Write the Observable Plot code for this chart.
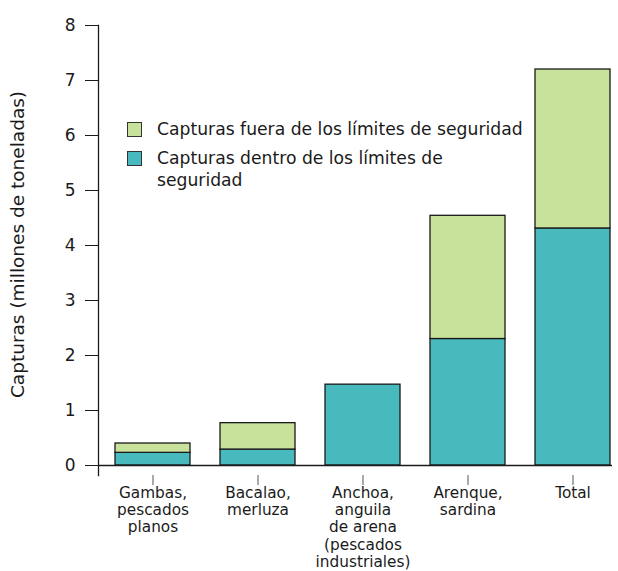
<!DOCTYPE html>
<html>
<head>
<meta charset="utf-8">
<script src="https://cdn.jsdelivr.net/npm/d3@7"></script>
<script src="https://cdn.jsdelivr.net/npm/@observablehq/plot@0.6"></script>
<style>
  html, body { margin: 0; padding: 0; background: #fff; }
  #wrap { position: relative; width: 618px; height: 571px; font-family: "DejaVu Sans", Verdana, sans-serif; color: #1a1a1a; }
  #legend { position: absolute; left: 127px; top: 118px; font-size: 17.2px; line-height: 22.5px; }
  .item { display: flex; align-items: flex-start; margin-bottom: 6px; }
  .sw { width: 13px; height: 13px; border: 1px solid #333; margin-top: 4px; margin-right: 15px; flex: none; }
</style>
</head>
<body>
<div id="wrap"><div id="legend"></div></div>
<script>
const categories = ["Gambas,\npescados\nplanos", "Bacalao,\nmerluza", "Anchoa,\nanguila\nde arena\n(pescados\nindustriales)", "Arenque,\nsardina", "Total"];
const dentro = [0.23, 0.29, 1.47, 2.30, 4.31];
const fuera = [0.17, 0.48, 0, 2.24, 2.89];
const seriesNames = ["Capturas dentro de los límites de\nseguridad", "Capturas fuera de los límites de seguridad"];
const seriesColors = ["#48b9bc", "#c8e29b"];
const yTicks = [0, 1, 2, 3, 4, 5, 6, 7, 8];
const yLabel = "Capturas (millones de toneladas)";

const data = [];
categories.forEach((c, i) => {
  data.push({cat: c, serie: seriesNames[0], value: dentro[i]});
  data.push({cat: c, serie: seriesNames[1], value: fuera[i]});
});

const chart = Plot.plot({
  width: 618,
  height: 571,
  marginLeft: 98,
  marginRight: 6,
  marginTop: 25,
  marginBottom: 96,
  style: {fontFamily: "'DejaVu Sans', Verdana, sans-serif", color: "#1a1a1a", background: "#fff"},
  x: {domain: categories, range: [113, 613], paddingInner: 0.283, paddingOuter: 0},
  y: {domain: [0, 8], range: [465, 25]},
  color: {domain: seriesNames, range: seriesColors},
  marks: [
    Plot.barY(data, Plot.stackY({order: seriesNames}, {x: "cat", y: "value", fill: "serie", stroke: "#1a1a1a", strokeWidth: 1.3})),
    Plot.frame({anchor: "left", stroke: "#1a1a1a", strokeWidth: 1.3}),
    Plot.ruleY([0], {stroke: "#1a1a1a", strokeWidth: 1.3}),
    Plot.axisY({ticks: yTicks, tickSize: 13, tickPadding: 10, fontSize: 17, tickFormat: d3.format("d"),
      label: null, stroke: "#1a1a1a"}),
    Plot.text([yLabel], {frameAnchor: "left", textAnchor: "middle", rotate: -90, dx: -80, dy: -6, fontSize: 18.5, fill: "#1a1a1a", text: d => d}),
    Plot.axisX({tickSize: 10, tickPadding: 0, fontSize: 15.3, lineHeight: 1.13, label: null, stroke: "#555"})
  ]
});
document.getElementById("wrap").prepend(chart);
chart.style.display = "block";

const legend = document.getElementById("legend");
[1, 0].forEach(i => {
  const it = document.createElement("div");
  it.className = "item";
  const sw = document.createElement("div");
  sw.className = "sw";
  sw.style.background = seriesColors[i];
  const tx = document.createElement("div");
  tx.style.whiteSpace = "pre";
  tx.textContent = seriesNames[i];
  it.append(sw, tx);
  legend.append(it);
});
</script>
</body>
</html>
